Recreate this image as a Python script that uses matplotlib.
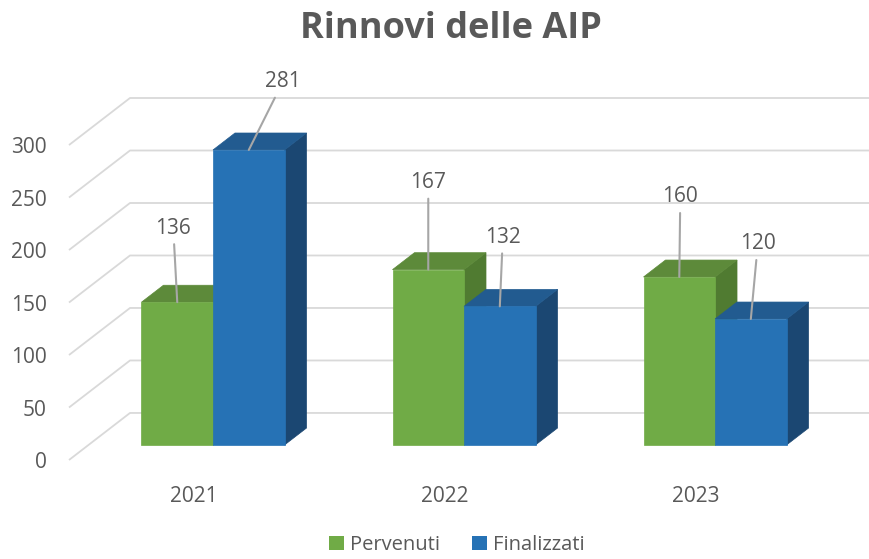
import numpy as np
import matplotlib.pyplot as plt
from matplotlib.patches import Polygon, Patch

plt.rcParams['font.family'] = ['Open Sans', 'DejaVu Sans']

# data
years = ["2021", "2022", "2023"]
pervenuti = [136, 167, 160]
finalizzati = [281, 132, 120]
series_names = ["Pervenuti", "Finalizzati"]
y_ticks = [0, 50, 100, 150, 200, 250, 300]

# colours: front, top, side
green = ("#70ab46", "#5d8a3a", "#507b31")
blue = ("#2672b5", "#225b90", "#1b4772")
text_col = "#595959"
grid_col = "#d9d9d9"

# oblique projection of the floor depth (data units)
DX, DY = 0.243, 44.8
f0, f1 = 0.32, 0.68          # bars sit in the middle of the depth
W = 0.285                    # bar width

fig = plt.figure(figsize=(8.7, 5.59), dpi=100)
ax = fig.add_axes([69/870, 99/559, 801/870, 400/559])
ax.set_xlim(-0.496, 2.695)
ax.set_ylim(0, 381)
for s in ax.spines.values():
    s.set_visible(False)

# walls: diagonal side lines + back horizontal lines
x_left = -0.496
for v in y_ticks:
    ax.plot([x_left, x_left + DX, 2.695], [v, v + DY, v + DY],
            color=grid_col, lw=1.3, zorder=1, clip_on=False, solid_capstyle="butt")

ax.set_yticks(y_ticks)
ax.set_yticklabels([str(v) for v in y_ticks])
ax.set_xticks(range(len(years)))
ax.set_xticklabels(years)
ax.tick_params(axis="y", length=0, pad=16, labelsize=15, labelcolor=text_col)
ax.tick_params(axis="x", length=0, pad=19, labelsize=15, labelcolor=text_col)

ox, oy = f0 * DX, f0 * DY
ddx, ddy = (f1 - f0) * DX, (f1 - f0) * DY


def bar3d(x0, x1, v, cols, z):
    front = [(x0 + ox, oy), (x1 + ox, oy), (x1 + ox, v + oy), (x0 + ox, v + oy)]
    top = [(x0 + ox, v + oy), (x1 + ox, v + oy),
           (x1 + ox + ddx, v + oy + ddy), (x0 + ox + ddx, v + oy + ddy)]
    side = [(x1 + ox, oy), (x1 + ox, v + oy),
            (x1 + ox + ddx, v + oy + ddy), (x1 + ox + ddx, oy + ddy)]
    for pts, c in zip([side, top, front], [cols[2], cols[1], cols[0]]):
        ax.add_patch(Polygon(pts, closed=True, facecolor=c, edgecolor=c,
                             lw=0.5, zorder=z, clip_on=False))


# label offsets in pixels (dx, dy) from the bar's front top
lab_off = {
    (0, 0): (-4, 74), (0, 1): (34, 68),
    (1, 0): (0, 87), (1, 1): (3, 69),
    (2, 0): (1, 80), (2, 1): (7, 75),
}

z = 2
for i in range(len(years)):
    for j, (vals, cols) in enumerate([(pervenuti, green), (finalizzati, blue)]):
        v = vals[i]
        x0 = i - W if j == 0 else i
        x1 = x0 + W
        bar3d(x0, x1, v, cols, z)
        z += 1
        cx = (x0 + x1) / 2 + ox
        dxp, dyp = lab_off[(i, j)]
        ax.annotate(str(v), xy=(cx, v + oy), xytext=(dxp, dyp),
                    textcoords="offset pixels", ha="center", va="center",
                    fontsize=15, color=text_col, zorder=20,
                    arrowprops=dict(arrowstyle="-", color="#a6a6a6", lw=1.5,
                                    shrinkA=2, shrinkB=0))

fig.text(451/870, 1 - 29/559, "Rinnovi delle AIP", ha="center", va="center",
         fontsize=26, fontweight="bold", color=text_col)

handles = [Patch(facecolor=green[0], edgecolor="none"),
           Patch(facecolor=blue[0], edgecolor="none")]
leg = fig.legend(handles, series_names, loc="center", ncol=2, frameon=False,
                 bbox_to_anchor=(457/870, 1 - 545/559), fontsize=14.5,
                 handlelength=0.75, handleheight=0.75, handletextpad=0.3,
                 columnspacing=1.6, borderpad=0.1)
for t in leg.get_texts():
    t.set_color(text_col)

fig.savefig("out.png", dpi=100)
